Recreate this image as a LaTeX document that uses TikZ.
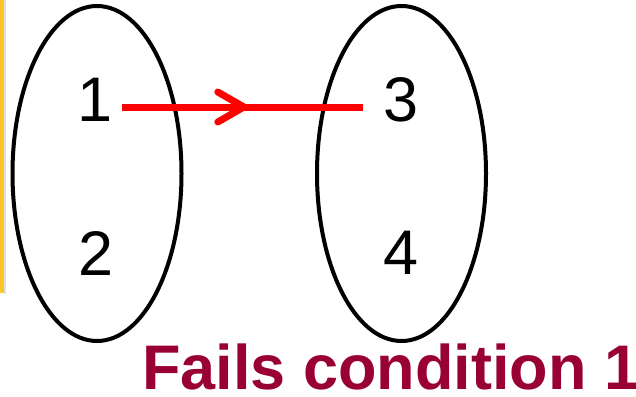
\documentclass[tikz,border=0pt]{standalone}
\usepackage{fontspec}
\setmainfont{Liberation Sans}
\usetikzlibrary{shapes.geometric,arrows.meta,decorations.markings}
\definecolor{failred}{RGB}{153,0,51}
\definecolor{stripyellow}{RGB}{252,200,40}
\begin{document}
\begin{tikzpicture}[x=1pt,y=-1pt,
  setoval/.style={draw=black, line width=4pt, ellipse, minimum width=169pt, minimum height=335pt, inner sep=0pt},
  digit/.style={font=\fontsize{63}{63}\selectfont, inner sep=0pt, text=black},
  redline/.style={draw=red, line width=7pt},
  midarrow/.style={postaction=decorate, decoration={markings, mark=at position #1 with {\arrow{Straight Barb[length=26pt,width=30pt,line cap=round,line join=round]}}}}
]
\useasboundingbox (0,0) rectangle (636,396);
\fill[white] (0,0) rectangle (636,396);
\fill[gray!25] (4,0) rectangle (6,294);
\fill[stripyellow] (0,0) rectangle (4,293);
\node[setoval] (A) at (97,173.5) {};
\node[setoval] (B) at (401.5,173.5) {};
\node[digit] (n1) at (95,100) {1};
\node[digit] (n2) at (96,254) {2};
\node[digit] (n3) at (401,100) {3};
\node[digit] (n4) at (401,253) {4};
\coordinate (s) at (122,107);
\coordinate (e) at (363,107);
\draw[redline, midarrow=0.52] (s) -- (e);
\node[anchor=base west, inner sep=0pt, text=failred, font=\bfseries\fontsize{63}{63}\selectfont] (cap) at (142,389) {Fails condition 1};
\end{tikzpicture}
\end{document}
